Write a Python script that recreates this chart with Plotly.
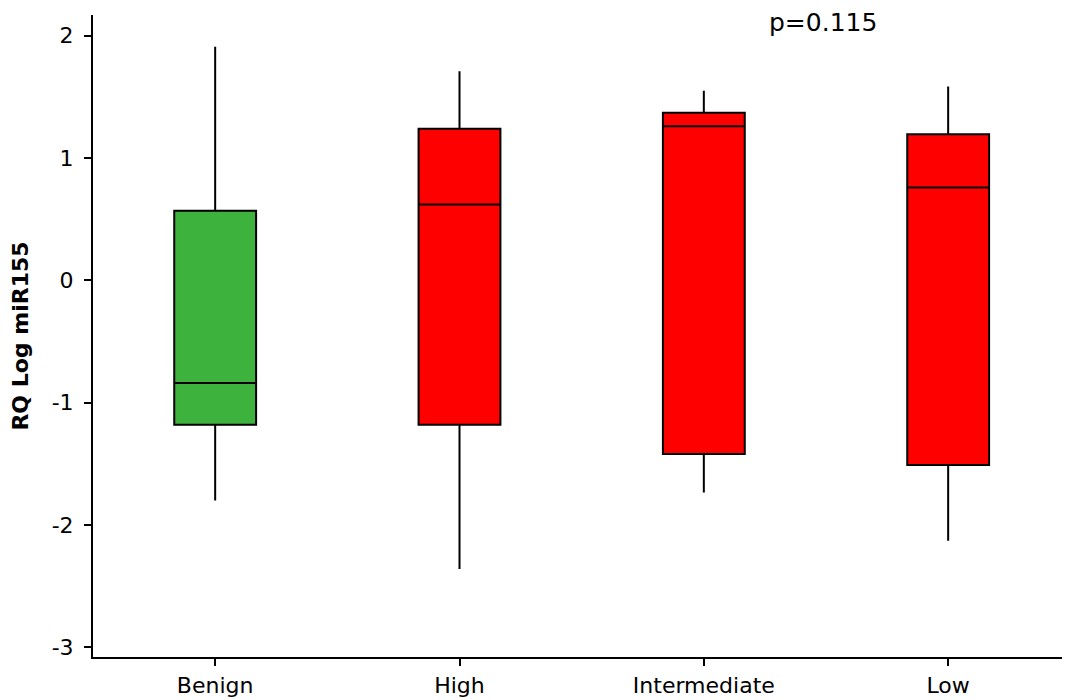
import plotly.graph_objects as go

categories = ["Benign", "High", "Intermediate", "Low"]
q1 = [-1.18, -1.18, -1.42, -1.51]
median = [-0.84, 0.62, 1.26, 0.76]
q3 = [0.57, 1.24, 1.37, 1.195]
lower_whisker = [-1.80, -2.36, -1.735, -2.13]
upper_whisker = [1.91, 1.71, 1.55, 1.585]
colors = ["#3DB33D", "#FF0000", "#FF0000", "#FF0000"]

y_ticks = [-3, -2, -1, 0, 1, 2]
y_tick_labels = ["-3", "-2", "-1", "0", "1", "2"]
p_text = "p=0.115"
y_title = "RQ Log miR155"

FONT = "DejaVu Sans"

fig = go.Figure()
for i, cat in enumerate(categories):
    fig.add_trace(go.Box(
        x=[cat],
        q1=[q1[i]], median=[median[i]], q3=[q3[i]],
        lowerfence=[lower_whisker[i]], upperfence=[upper_whisker[i]],
        fillcolor=colors[i],
        line=dict(color="black", width=2),
        whiskerwidth=0,
        width=0.335,
        boxpoints=False,
        showlegend=False,
        hoverinfo="skip",
    ))

fig.update_layout(
    width=1062, height=692,
    margin=dict(l=85, r=7, t=7, b=43),
    paper_bgcolor="white", plot_bgcolor="white",
    font=dict(family=FONT, color="black", size=22),
    xaxis=dict(
        type="category", categoryorder="array", categoryarray=categories,
        range=[-0.5, 3.47],
        automargin=False,
        showline=True, linecolor="black", linewidth=2,
        ticks="outside", ticklen=7, tickwidth=2, tickcolor="black",
        showgrid=False, zeroline=False,
        tickfont=dict(family=FONT, size=22, color="black"),
        ticklabelstandoff=1,
    ),
    yaxis=dict(
        range=[-3.08, 2.17],
        automargin=False,
        tickvals=y_ticks, ticktext=y_tick_labels,
        showline=True, linecolor="black", linewidth=2,
        ticks="outside", ticklen=7, tickwidth=2, tickcolor="black",
        showgrid=False, zeroline=False,
        tickfont=dict(family=FONT, size=22, color="black"),
        ticklabelstandoff=6,
        title=dict(text="<b>" + y_title + "</b>", font=dict(family=FONT, size=22, color="black"), standoff=19),
    ),
    annotations=[dict(
        text=p_text, xref="paper", yref="paper",
        x=0.7526, y=0.988, xanchor="center", yanchor="middle",
        showarrow=False, font=dict(family=FONT, size=25, color="black"),
    )],
)

fig.write_html("out.html")
